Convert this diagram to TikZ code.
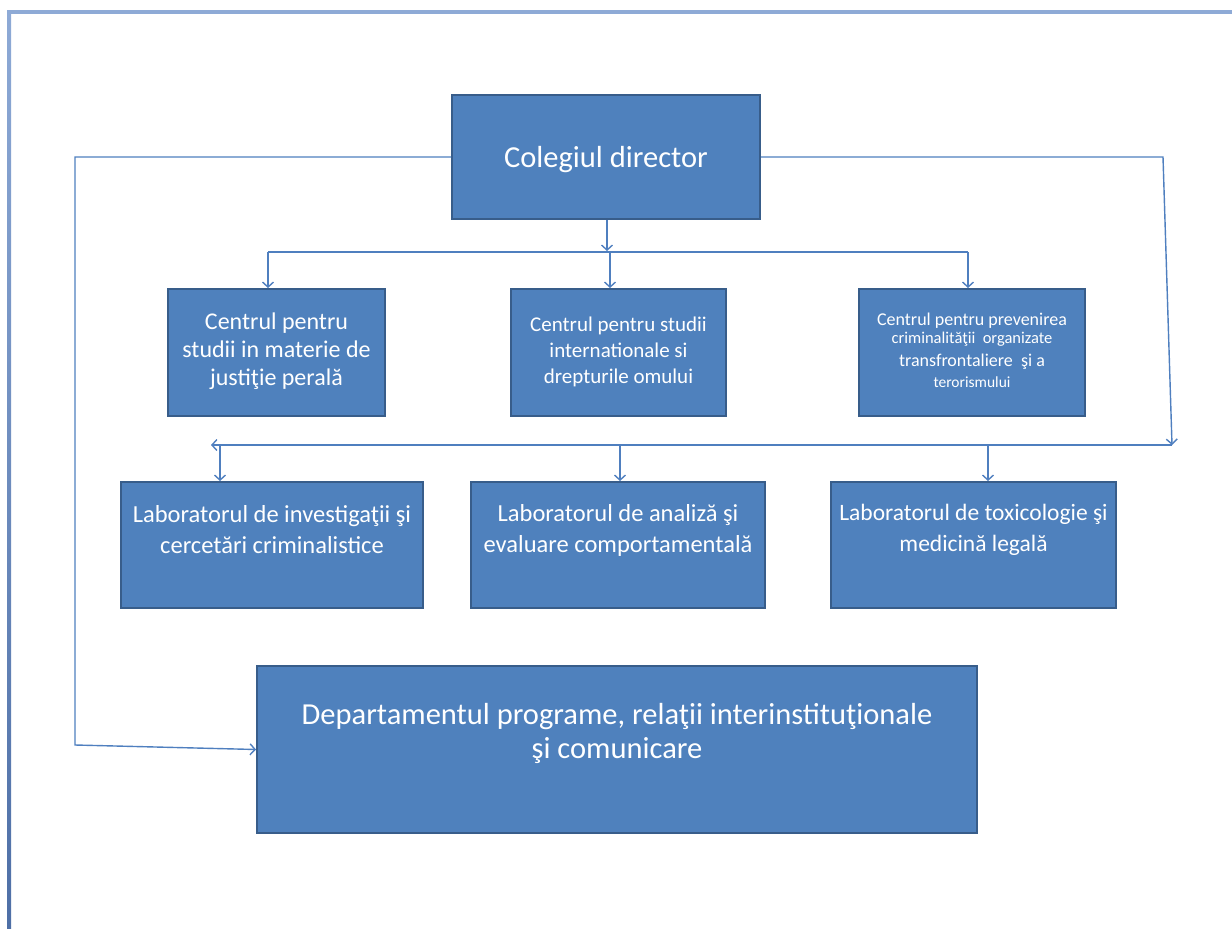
\documentclass[tikz,border=0pt]{standalone}
\usepackage{fontspec}
\setmainfont{Carlito}
\usetikzlibrary{arrows.meta,calc}
\definecolor{boxfill}{HTML}{4F81BD}
\definecolor{boxline}{HTML}{385D8A}
\definecolor{conncol}{HTML}{4F7FBF}
\definecolor{frameA}{HTML}{8EAAD6}
\definecolor{frameB}{HTML}{4E6FA6}
\newcommand{\fsz}[2]{\fontsize{#1}{#2}\selectfont}
\tikzset{
  box/.style={draw=boxline, line width=2pt, fill=boxfill, inner sep=0pt},
  txt/.style={text=white, align=center, inner sep=0pt},
  conn/.style={draw=conncol, line width=1.4pt, -{Straight Barb[length=5pt,width=11pt,line width=1.4pt]}},
  plain/.style={draw=conncol, line width=1.4pt}
}
\begin{document}
\begin{tikzpicture}[x=1pt,y=-1pt]
\useasboundingbox (0,0) rectangle (1232,929);
% frame
\fill[frameA] (7,10) rectangle (1232,14);
\shade[top color=frameA, bottom color=frameB] (7,10) rectangle (11,929);
% boxes
\node[box, minimum width=308pt, minimum height=124pt] (dir) at (606,157) {};
\node[txt, font=\fsz{30.5}{36}] (dirt) at (606,160) {Colegiul director};

\node[box, minimum width=217pt, minimum height=127pt] (c1) at (276.5,352.5) {};
\node[txt, font=\fsz{24}{28}] (c1t) at (276.5,351) {Centrul pentru\\studii in materie de\\justiţie perală};

\node[box, minimum width=215pt, minimum height=127pt] (c2) at (618.5,352.5) {};
\node[txt, font=\fsz{21}{26}] (c2t) at (618.5,352) {Centrul pentru studii\\internationale si\\drepturile omului};

\node[box, minimum width=226pt, minimum height=127pt] (c3) at (972,352.5) {};
\node[txt, font=\fsz{18}{21}] (c3t) at (972,350) {Centrul pentru prevenirea\\[-3pt]{\fontsize{16.5}{21}\selectfont criminalităţii\ \ organizate}\\[2pt]{\fontsize{18}{21}\selectfont transfrontaliere\ \ şi a}\\{\fontsize{15.5}{21}\selectfont terorismului}};

\node[box, minimum width=302pt, minimum height=126pt] (l1) at (272,545) {};
\node[txt, font=\fsz{24.5}{31}] (l1t) at (272,530) {Laboratorul de investigaţii şi\\cercetări criminalistice};

\node[box, minimum width=294pt, minimum height=126pt] (l2) at (618,545) {};
\node[txt, font=\fsz{24.5}{31}] (l2t) at (618,530) {Laboratorul de analiză şi\\evaluare comportamentală};

\node[box, minimum width=285pt, minimum height=126pt] (l3) at (973.5,545) {};
\node[txt, font=\fsz{23.5}{31}] (l3t) at (973.5,530) {Laboratorul de toxicologie şi\\medicină legală};

\node[box, minimum width=720pt, minimum height=167pt] (dept) at (617,749.5) {};
\node[txt, font=\fsz{30.5}{34}] (deptt) at (617,733) {Departamentul programe, relaţii interinstituţionale\\şi comunicare};

% connectors top
\coordinate (tj) at (607,251);
\coordinate (h1) at (268,252);
\coordinate (h2) at (610,252);
\coordinate (h3) at (968,252);
\draw[conn] (dir.south -| tj) -- (tj);
\draw[plain] (h1) -- (h3);
\draw[conn] (h1) -- (h1 |- c1.north);
\draw[conn] (h2) -- (h2 |- c2.north);
\draw[conn] (h3) -- (h3 |- c3.north);

% left connector
\coordinate (lt) at (75,157);
\coordinate (lb) at (75,745);
\draw[conn] (dir.west) -- (lt) -- (lb) -- (dept.west);

% right connector
\coordinate (rt) at (1163,157);
\coordinate (rb) at (1172,445);
\coordinate (ll) at (211,445);
\draw[conn] (dir.east) -- (rt) -- (rb);
\draw[conn] (rb) -- (ll);
\coordinate (j1) at (220,445);
\coordinate (j2) at (620,445);
\coordinate (j3) at (988,445);
\draw[conn] (j1) -- (j1 |- l1.north);
\draw[conn] (j2) -- (j2 |- l2.north);
\draw[conn] (j3) -- (j3 |- l3.north);
\end{tikzpicture}
\end{document}
